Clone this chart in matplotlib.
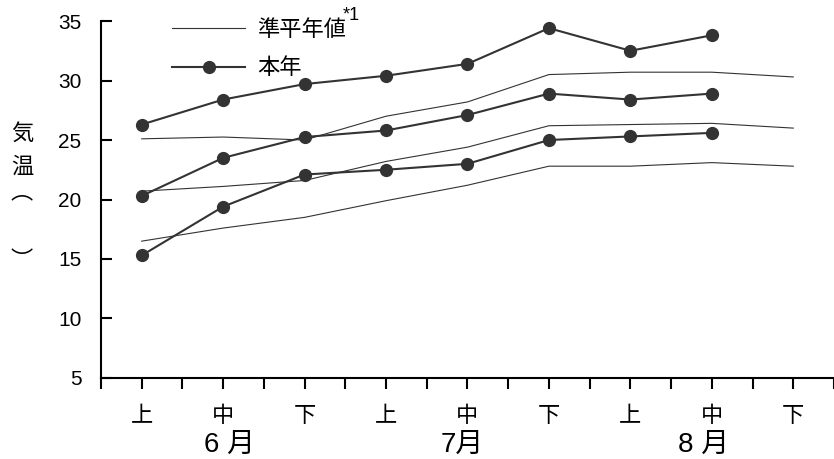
import matplotlib
matplotlib.use('Agg')
import matplotlib.pyplot as plt
from matplotlib.lines import Line2D

plt.rcParams['font.family'] = ['Liberation Sans', 'Noto Sans CJK JP', 'DejaVu Sans']

# 旬別の気温
periods = ['上', '中', '下', '上', '中', '下', '上', '中', '下']
months = ['6 月', '7月', '8 月']
month_pos = [1.08, 3.94, 6.9]

# 準平年値 (thin lines)
normal_high = [25.1, 25.25, 25.0, 27.0, 28.2, 30.5, 30.7, 30.7, 30.3]
normal_mid = [20.7, 21.1, 21.6, 23.2, 24.4, 26.2, 26.3, 26.4, 26.0]
normal_low = [16.5, 17.6, 18.5, 19.9, 21.2, 22.8, 22.8, 23.1, 22.8]

# 本年 (lines with markers)
year_high = [26.3, 28.4, 29.7, 30.4, 31.4, 34.4, 32.5, 33.8]
year_mid = [20.3, 23.5, 25.25, 25.8, 27.1, 28.9, 28.4, 28.9]
year_low = [15.3, 19.4, 22.1, 22.5, 23.0, 25.0, 25.3, 25.6]

c = '#333333'
fig = plt.figure(figsize=(8.34, 4.59), dpi=100)
ax = fig.add_axes([0.1211, 0.1765, 0.8789, 0.7777])

xn = range(len(normal_high))
xy = range(len(year_high))
for s in (normal_high, normal_mid, normal_low):
    ax.plot(xn, s, color=c, lw=0.8)
for s in (year_high, year_mid, year_low):
    ax.plot(xy, s, color=c, lw=1.5, marker='o', ms=8.5, mfc=c, mec=c)

ax.set_xlim(-0.49, 8.43)
ax.set_ylim(5, 35)
ax.set_yticks(range(5, 36, 5))
ax.set_xticks(range(9))
ax.set_xticklabels(periods, fontsize=16)
ax.set_xticks([i + 0.5 for i in range(-1, 9)], minor=True)
ax.tick_params(axis='x', which='both', direction='out', length=8, width=1.5, pad=12)
ax.tick_params(axis='y', direction='in', length=8, width=1.5, labelsize=15, pad=14)
for sp in ('top', 'right'):
    ax.spines[sp].set_visible(False)
for sp in ('left', 'bottom'):
    ax.spines[sp].set_linewidth(1.5)

for m, p in zip(months, month_pos):
    ax.text(p, -0.187, m, transform=ax.get_xaxis_transform(), ha='center', va='center', fontsize=20)

# y label written vertically
for ch, yy in zip(['気', '温', '︵', '︶'], [134, 167, 193, 262]):
    fig.text(22 / 834, 1 - yy / 459, ch, ha='center', va='center', fontsize=16)

handles = [Line2D([], [], color=c, lw=0.8),
           Line2D([], [], color=c, lw=1.5, marker='o', ms=8.5, mfc=c, mec=c)]
ax.legend(handles, ['準平年値', '本年'], loc='upper left', bbox_to_anchor=(0.07, 1.06),
          frameon=False, fontsize=16, handlelength=3.27, handletextpad=0.55, labelspacing=0.8)
fig.text(351 / 834, 1 - 15 / 459, '*1', ha='center', va='center', fontsize=13)

fig.savefig('out.png')
